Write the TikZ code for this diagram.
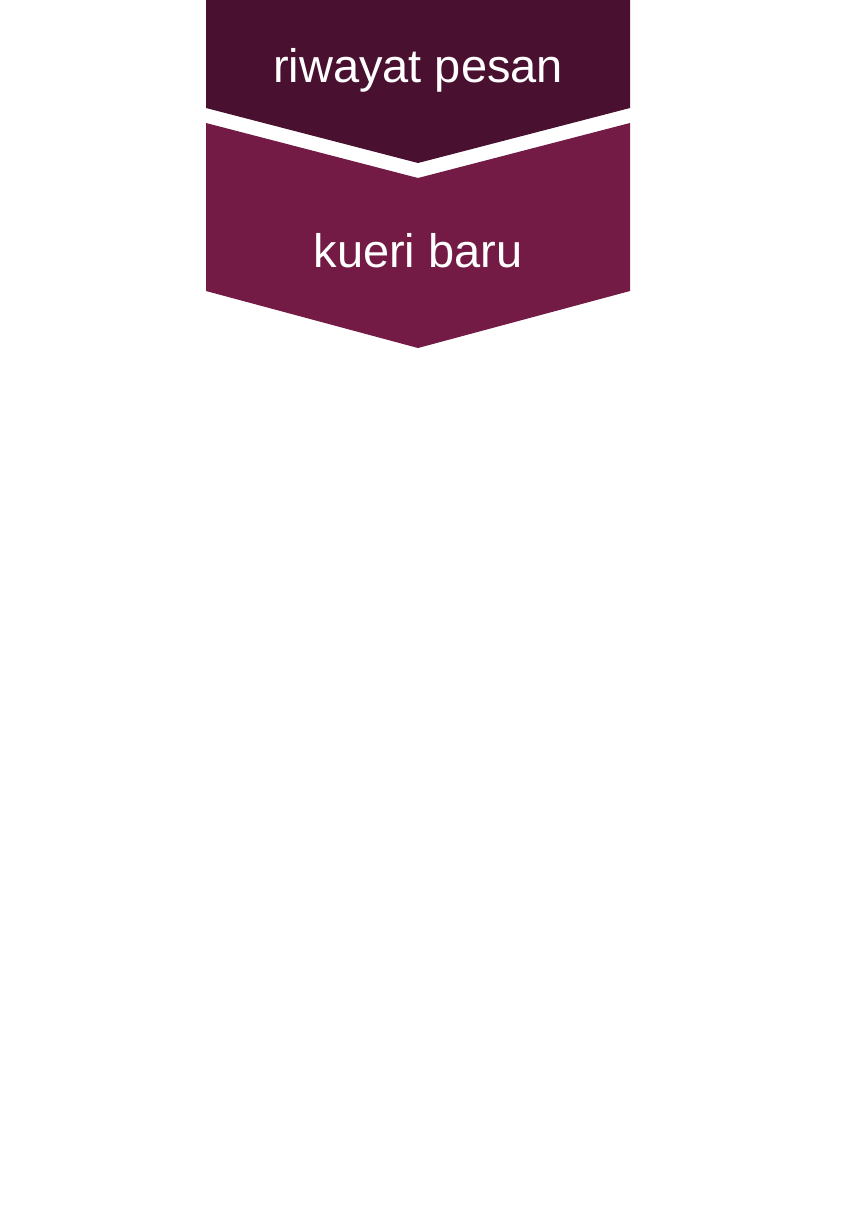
\documentclass[tikz,border=0pt]{standalone}
\usepackage{fontspec}
\setmainfont{Liberation Sans}
\definecolor{historycolor}{HTML}{4A1030}
\definecolor{querycolor}{HTML}{731A45}
\tikzstyle{chevron} = [draw=none]
\tikzstyle{steptext} = [text=white, font=\fontsize{47}{56}\selectfont, inner sep=0pt, anchor=base]

\begin{document}
\begin{tikzpicture}[x=1pt, y=1pt]
        \useasboundingbox (0,0) rectangle (864,-1232);
        \fill[chevron, historycolor] (206,0) -- (630,0) -- (630,-108) -- (418,-163) -- (206,-108) -- cycle;
        \fill[chevron, querycolor] (206,-123) -- (418,-178) -- (630,-123) -- (630,-291) -- (418,-348) -- (206,-291) -- cycle;
        \node[steptext] (history) at (418,-82) {riwayat pesan};
        \node[steptext] (query) at (418,-267) {kueri baru};
    \end{tikzpicture}
\end{document}
